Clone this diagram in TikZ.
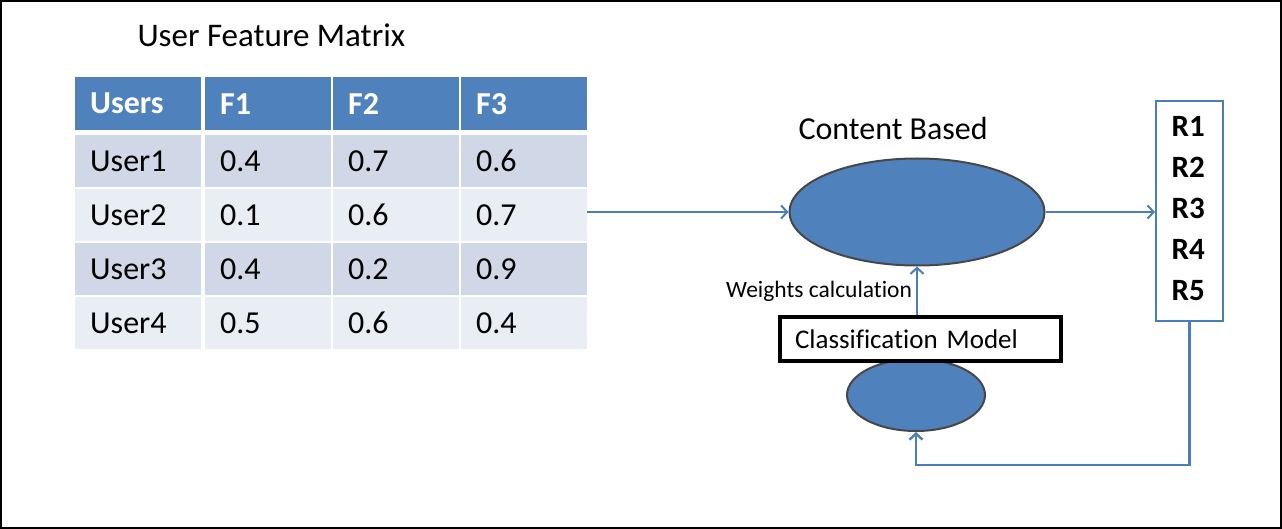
\documentclass[tikz,border=0pt]{standalone}
\usepackage{fontspec}
\setmainfont[Ligatures=CommonOff]{Carlito}
\usetikzlibrary{shapes.geometric,arrows.meta}
\definecolor{ofblue}{HTML}{4F81BD}
\definecolor{rowdark}{HTML}{D0D8E8}
\definecolor{rowlight}{HTML}{E9EDF4}
\definecolor{linkblue}{HTML}{4A7EBB}
\definecolor{rimgray}{HTML}{474747}

\begin{document}
\begin{tikzpicture}[x=1pt,y=-1pt,>={Straight Barb[length=6pt,width=13pt]},
	cell/.style={rectangle,anchor=north west,inner xsep=15pt,inner ysep=0pt,text width=96pt,align=left,minimum height=52pt,font=\fontsize{32}{36}\selectfont},
	hcell/.style={cell,fill=ofblue,text=white,minimum height=53pt,font=\fontsize{32}{36}\selectfont\bfseries},
	link/.style={->,draw=linkblue,line width=2pt},
	blob/.style={ellipse,fill=ofblue,draw=rimgray,line width=2pt,inner sep=0pt}]
	\useasboundingbox (0,0) rectangle (1282,529);
	\fill[white] (0,0) rectangle (1282,529);
	\draw[line width=2pt] (1,1) rectangle (1281,528);
	% matrix
	\node[anchor=base west,font=\fontsize{33}{38}\selectfont] (title) at (134,47) {User Feature Matrix};
	\node[hcell] (hu) at (75,77) {Users};
	\node[hcell] (h1) at (205,77) {F1};
	\node[hcell] (h2) at (333,77) {F2};
	\node[hcell] (h3) at (461,77) {F3};
	\foreach \u/\a/\b/\c [count=\i] in {User1/0.4/0.7/0.6,User2/0.1/0.6/0.7,User3/0.4/0.2/0.9,User4/0.5/0.6/0.4}{
		\ifodd\i \def\rowfill{rowdark}\else\def\rowfill{rowlight}\fi
		\pgfmathsetmacro\ytop{135+(\i-1)*54}
		\node[cell,fill=\rowfill] (u\i) at (75,\ytop) {\u};
		\node[cell,fill=\rowfill] (a\i) at (205,\ytop) {\a};
		\node[cell,fill=\rowfill] (b\i) at (333,\ytop) {\b};
		\node[cell,fill=\rowfill] (c\i) at (461,\ytop) {\c};
	}
	% content based part
	\node[anchor=base west,font=\fontsize{32}{36}\selectfont] (cblabel) at (795,140) {Content Based};
	\node[blob,minimum width=255pt,minimum height=107pt] (content) at (917,212) {};
	\node[blob,minimum width=138pt,minimum height=72pt] (classify) at (916,395) {};
	\node[rectangle,draw=black,fill=white,line width=3.5pt,minimum width=281pt,minimum height=44pt,inner xsep=15pt,text width=251pt,align=left,font=\fontsize{27}{30}\selectfont] (model) at (920.5,339) {Classification Model};
	\node[rectangle,draw=linkblue,line width=2pt,minimum width=67pt,minimum height=220pt] (recs) at (1189.5,211) {};
	\foreach \k in {1,...,5}
		\node[anchor=base west,font=\fontsize{31}{34}\selectfont\bfseries] (r\k) at (1168,{137+(\k-1)*40.8}) {R\k};
	\coordinate (fbturn) at (1190,465);
	% connectors
	\draw[link] (c2.east |- content.west) -- (content.west);
	\draw[link] (content.east) -- (content.east -| recs.west);
	\draw[link] (model.north -| content.south) -- node[left,pos=0.5,inner xsep=4pt,font=\fontsize{23.5}{26}\selectfont] (wlabel) {Weights calculation} (content.south);
	\draw[link,line width=2.4pt] (recs.south) -- (recs.south |- fbturn) -| (classify.south);
\end{tikzpicture}
\end{document}
